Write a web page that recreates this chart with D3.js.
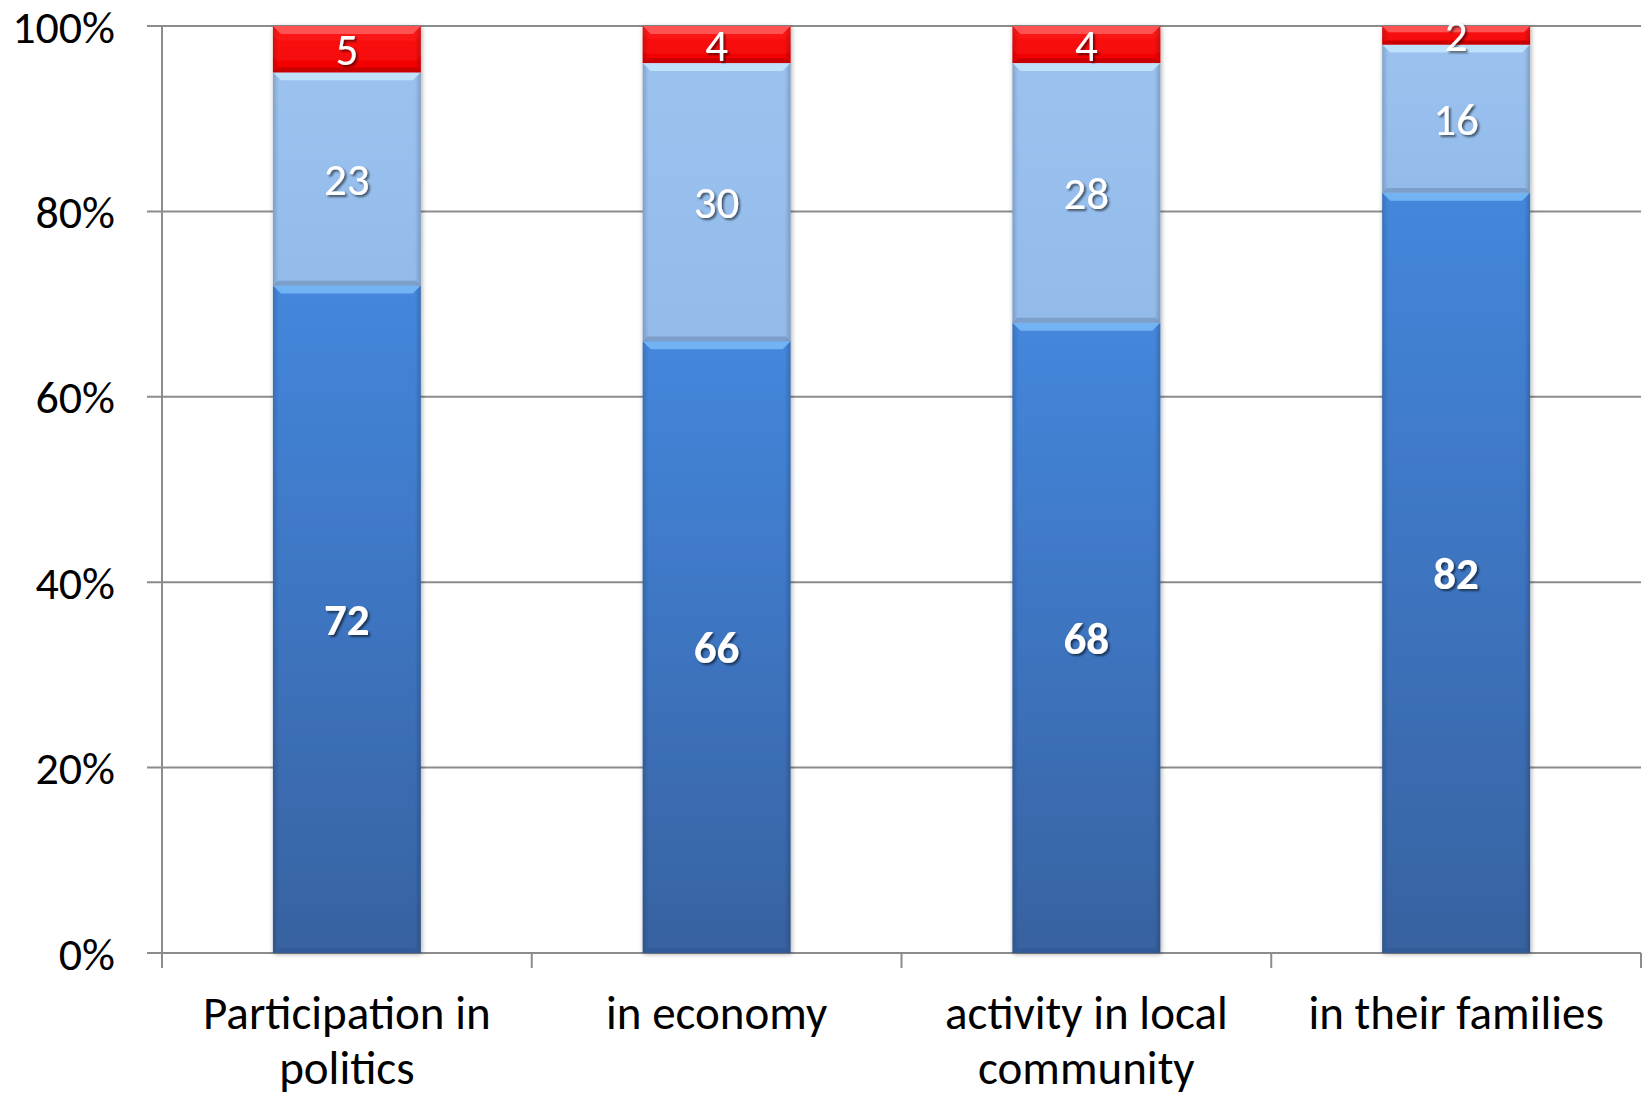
<!DOCTYPE html>
<html>
<head>
<meta charset="utf-8">
<script src="https://cdn.jsdelivr.net/npm/d3@7"></script>
<style>
  html, body { margin: 0; padding: 0; background: #fff; }
  svg { display: block; }
  text { font-family: Carlito, Lato, "Liberation Sans", sans-serif; }
</style>
</head>
<body>
<svg id="chart" width="1647" height="1097"></svg>
<script>
// ---- data ----
const categories = [["Participation in", "politics"], ["in economy"], ["activity in local", "community"], ["in their families"]];
const categoryKeys = ["Participation in politics", "in economy", "activity in local community", "in their families"];
const seriesNames = ["bottom", "middle", "top"];
const bottomValues = [72, 66, 68, 82];
const middleValues = [23, 30, 28, 16];
const topValues = [5, 4, 4, 2];
const yTickValues = [0, 20, 40, 60, 80, 100];

const rows = categoryKeys.map((k, i) => ({
  key: k, idx: i,
  bottom: bottomValues[i], middle: middleValues[i], top: topValues[i]
}));

// ---- layout ----
const W = 1647, H = 1097;
const m = { left: 162, right: 6, top: 26, bottom: 144 };
const svg = d3.select("#chart");
const defs = svg.append("defs");

const x = d3.scaleBand().domain(categoryKeys).range([m.left, W - m.right]).paddingInner(0.6).paddingOuter(0.3);
const y = d3.scaleLinear().domain([0, 100]).range([H - m.bottom, m.top]);

// gridlines
const grid = svg.append("g");
grid.selectAll("line").data(yTickValues).join("line")
  .attr("x1", m.left - 15).attr("x2", W - m.right)
  .attr("y1", d => y(d)).attr("y2", d => y(d))
  .attr("stroke", "#8c8c8c").attr("stroke-width", 2);

// y axis line
svg.append("line").attr("x1", m.left).attr("x2", m.left)
  .attr("y1", y(100)).attr("y2", y(0)).attr("stroke", "#8c8c8c").attr("stroke-width", 2);

// y tick labels
svg.append("g").selectAll("text").data(yTickValues).join("text")
  .attr("x", 115).attr("y", d => y(d)).attr("dy", "0.36em")
  .attr("text-anchor", "end").attr("font-size", 46).attr("fill", "#000")
  .text(d => d + "%");

// x tick marks at category boundaries
const boundaries = d3.range(categoryKeys.length + 1).map(i => m.left + i * (W - m.right - m.left) / categoryKeys.length);
svg.append("g").selectAll("line").data(boundaries).join("line")
  .attr("x1", d => d).attr("x2", d => d)
  .attr("y1", y(0)).attr("y2", y(0) + 15)
  .attr("stroke", "#8c8c8c").attr("stroke-width", 2);

// gradients
function vGrad(id, stops) {
  const g = defs.append("linearGradient").attr("id", id).attr("x1", 0).attr("y1", 0).attr("x2", 0).attr("y2", 1);
  stops.forEach(s => g.append("stop").attr("offset", s[0]).attr("stop-color", s[1]));
}
function hGrad(id, stops) {
  const g = defs.append("linearGradient").attr("id", id).attr("x1", 0).attr("y1", 0).attr("x2", 1).attr("y2", 0);
  stops.forEach(s => g.append("stop").attr("offset", s[0]).attr("stop-color", s[1]).attr("stop-opacity", s[2]));
}
vGrad("g-bottom", [[0, "#4487dc"], [0.5, "#3d74c0"], [1, "#3862a0"]]);
vGrad("g-middle", [[0, "#9bc2ef"], [1, "#93bbea"]]);
vGrad("g-top", [[0, "#ff1a1a"], [1, "#f00000"]]);
hGrad("g-edge", [[0, "#000", 0.16], [0.04, "#000", 0.0], [0.96, "#000", 0.0], [1, "#000", 0.18]]);

const fills = { bottom: "url(#g-bottom)", middle: "url(#g-middle)", top: "url(#g-top)" };
const highlight = { bottom: "#78b8f6", middle: "#c4e4fb", top: "#ff5a5a" };
const lowlight = { bottom: "#2f5a94", middle: "#7393bd", top: "#b80000" };

// drop shadow for bars and text
const sh = defs.append("filter").attr("id", "barShadow").attr("x", "-10%").attr("y", "-5%").attr("width", "120%").attr("height", "110%");
sh.append("feGaussianBlur").attr("in", "SourceAlpha").attr("stdDeviation", 2.5).attr("result", "b");
sh.append("feOffset").attr("in", "b").attr("dx", 1).attr("dy", 1).attr("result", "o");
sh.append("feComponentTransfer").attr("in", "o").attr("result", "o2")
  .append("feFuncA").attr("type", "linear").attr("slope", 0.35);
const mg = sh.append("feMerge");
mg.append("feMergeNode").attr("in", "o2");
mg.append("feMergeNode").attr("in", "SourceGraphic");

const ts = defs.append("filter").attr("id", "textShadow").attr("x", "-20%").attr("y", "-20%").attr("width", "140%").attr("height", "140%");
ts.append("feGaussianBlur").attr("in", "SourceAlpha").attr("stdDeviation", 1.2).attr("result", "b");
ts.append("feOffset").attr("in", "b").attr("dx", 2).attr("dy", 2).attr("result", "o");
ts.append("feComponentTransfer").attr("in", "o").attr("result", "o2")
  .append("feFuncA").attr("type", "linear").attr("slope", 0.55);
const mt = ts.append("feMerge");
mt.append("feMergeNode").attr("in", "o2");
mt.append("feMergeNode").attr("in", "SourceGraphic");

defs.append("clipPath").attr("id", "plotClip").append("rect")
  .attr("x", 0).attr("y", 22).attr("width", W).attr("height", H);

// stacked bars
const stack = d3.stack().keys(seriesNames);
const series = stack(rows);
const bw = x.bandwidth();
const bev = 8;

const barsG = svg.append("g").attr("filter", "url(#barShadow)");
series.forEach(s => {
  const key = s.key;
  const g = barsG.append("g");
  s.forEach(d => {
    const x0 = x(d.data.key), y0 = y(d[1]), y1 = y(d[0]);
    const h = y1 - y0;
    g.append("rect").attr("x", x0).attr("y", y0).attr("width", bw).attr("height", h).attr("fill", fills[key]);
    g.append("rect").attr("x", x0).attr("y", y0).attr("width", bw).attr("height", h).attr("fill", "url(#g-edge)");
    const b = Math.min(bev, h / 3);
    g.append("path").attr("d", `M${x0},${y0}L${x0 + bw},${y0}L${x0 + bw - b},${y0 + b}L${x0 + b},${y0 + b}Z`)
      .attr("fill", highlight[key]).attr("opacity", 0.9);
    g.append("path").attr("d", `M${x0},${y1}L${x0 + bw},${y1}L${x0 + bw - b * 0.6},${y1 - b * 0.6}L${x0 + b * 0.6},${y1 - b * 0.6}Z`)
      .attr("fill", lowlight[key]).attr("opacity", 0.7);
  });
});

// data labels
const labelsG = svg.append("g").attr("clip-path", "url(#plotClip)");
series.forEach(s => {
  labelsG.append("g").selectAll("text").data(s).join("text")
    .attr("x", d => x(d.data.key) + bw / 2)
    .attr("y", d => (y(d[0]) + y(d[1])) / 2)
    .attr("dy", "0.36em")
    .attr("text-anchor", "middle")
    .attr("font-size", 45)
    .attr("font-weight", s.key === "bottom" ? "bold" : "normal")
    .attr("fill", "#fff")
    .attr("filter", "url(#textShadow)")
    .text(d => d[1] - d[0]);
});

// category labels
const catG = svg.append("g");
categories.forEach((lines, i) => {
  const t = catG.append("text")
    .attr("x", x(categoryKeys[i]) + bw / 2)
    .attr("y", 1029)
    .attr("text-anchor", "middle").attr("font-size", 47).attr("fill", "#000");
  lines.forEach((ln, j) => t.append("tspan").attr("x", x(categoryKeys[i]) + bw / 2).attr("dy", j === 0 ? 0 : 55).text(ln));
});
</script>
</body>
</html>
